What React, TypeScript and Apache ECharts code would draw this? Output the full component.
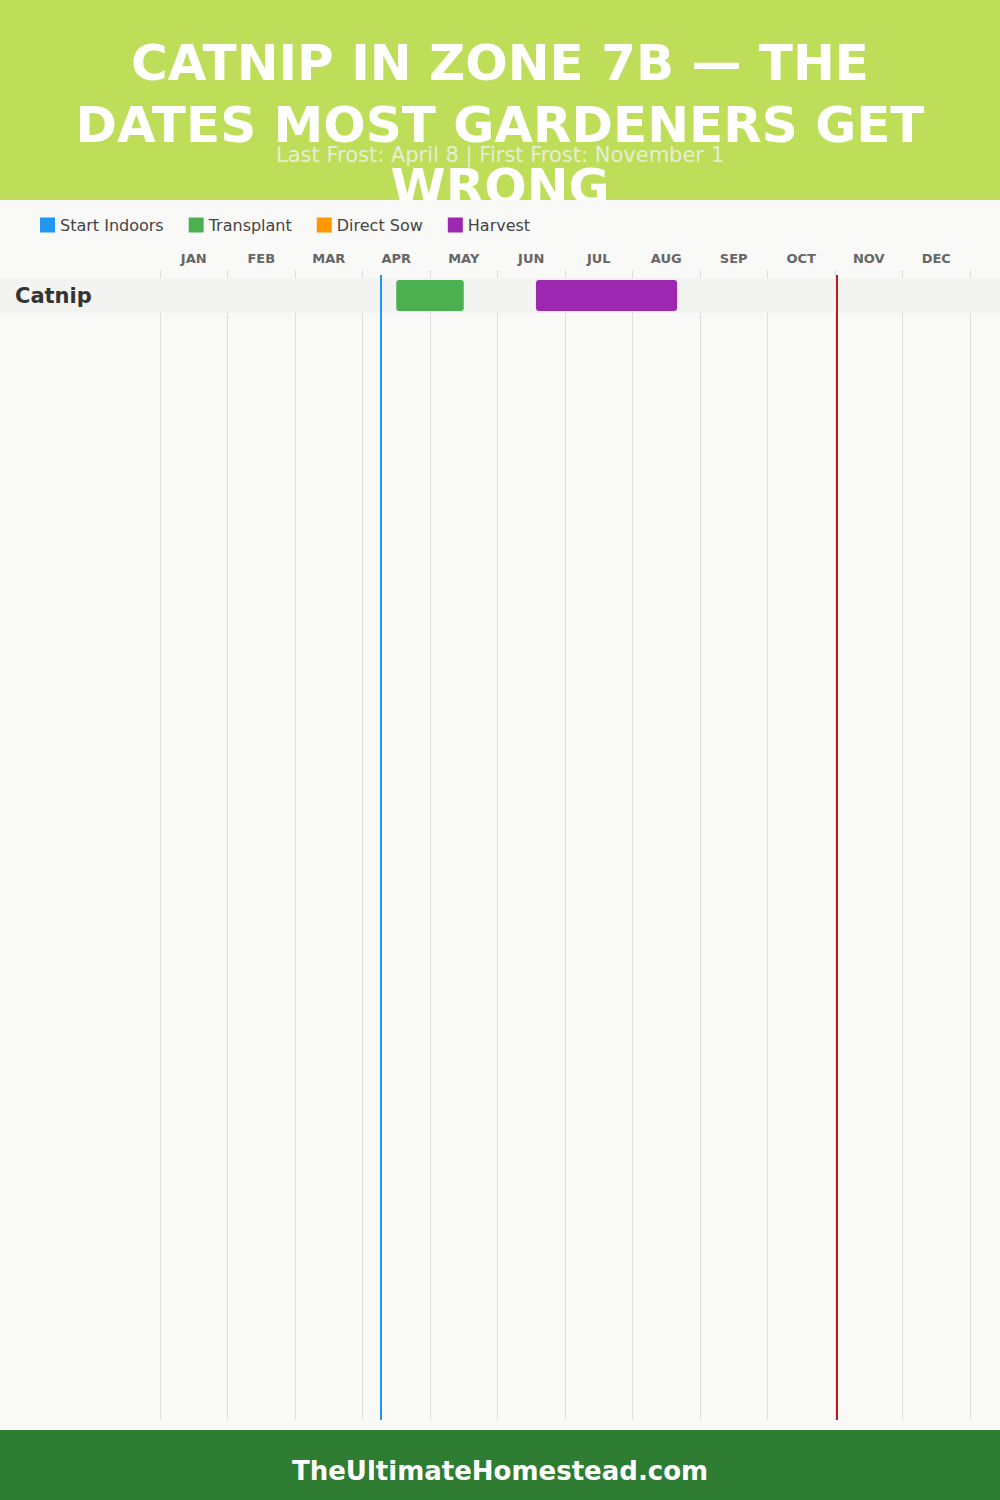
import React, { useEffect, useRef } from "react";
import * as echarts from "echarts";

const TITLE = "CATNIP IN ZONE 7B — THE\nDATES MOST GARDENERS GET\nWRONG";
const SUBTITLE = "Last Frost: April 8 | First Frost: November 1";
const FOOTER = "TheUltimateHomestead.com";
const MONTHS = ["JAN", "FEB", "MAR", "APR", "MAY", "JUN", "JUL", "AUG", "SEP", "OCT", "NOV", "DEC"];
const CROPS = ["Catnip"];
const ACTIVITIES = ["Start Indoors", "Transplant", "Direct Sow", "Harvest"];
const COLORS = ["#2196F3", "#4CAF50", "#FF9800", "#9C27B0"];
// [startMonth, endMonth, cropIndex] in month units (0 = Jan 1)
const START_INDOORS: number[][] = [];
const TRANSPLANT: number[][] = [[3.5, 4.5, 0]];
const DIRECT_SOW: number[][] = [];
const HARVEST: number[][] = [[5.57, 7.66, 0]];
const LAST_FROST = 3.27;
const FIRST_FROST = 10.03;

const FONT = "DejaVu Sans";

export default function App() {
  const ref = useRef<HTMLDivElement>(null);
  useEffect(() => {
    document.body.style.margin = "0";
    const chart = echarts.init(ref.current!, null, { renderer: "svg" });
    const actData = [START_INDOORS, TRANSPLANT, DIRECT_SOW, HARVEST];
    const renderBar = (color: string) => (params: any, api: any) => {
      const s = api.coord([api.value(0), api.value(2)]);
      const e = api.coord([api.value(1), api.value(2)]);
      const h = api.size([0, 1])[1] * 0.88;
      return {
        type: "rect",
        shape: { x: s[0], y: s[1] - h / 2, width: e[0] - s[0], height: h, r: 3 },
        style: { fill: color },
      };
    };
    const series: any[] = ACTIVITIES.map((name, i) => ({
      name,
      type: "custom",
      xAxisIndex: 0,
      yAxisIndex: 0,
      z: 5,
      itemStyle: { color: COLORS[i] },
      renderItem: renderBar(COLORS[i]),
      encode: { x: [0, 1], y: 2 },
      data: actData[i],
    }));
    const top = 0.9957;
    series.push({
      name: "frost",
      type: "line",
      xAxisIndex: 1,
      yAxisIndex: 1,
      data: [],
      z: 6,
      markLine: {
        symbol: "none",
        silent: true,
        label: { show: false },
        data: [
          [
            { coord: [LAST_FROST, top], lineStyle: { color: "#2196F3", width: 2, type: "solid" } },
            { coord: [LAST_FROST, 0] },
          ],
          [
            { coord: [FIRST_FROST, top], lineStyle: { color: "#B71C1C", width: 2, type: "solid" } },
            { coord: [FIRST_FROST, 0] },
          ],
        ],
      },
    });
    chart.setOption({
      animation: false,
      backgroundColor: "#F9F9F8",
      legend: {
        data: ACTIVITIES,
        left: 35,
        top: 212,
        icon: "rect",
        itemWidth: 15,
        itemHeight: 15,
        itemGap: 25,
        textStyle: { fontFamily: FONT, fontSize: 16, color: "#444" },
      },
      grid: [
        { left: 160, right: 30, top: 278, height: 35 },
        { left: 160, right: 30, top: 270, bottom: 80 },
      ],
      xAxis: [
        { type: "value", gridIndex: 0, min: 0, max: 12, show: false },
        {
          type: "value", gridIndex: 1, min: 0, max: 12, interval: 1,
          axisLine: { show: false }, axisTick: { show: false }, axisLabel: { show: false },
          splitLine: { show: true, lineStyle: { color: "#DDDDDD", width: 1 } },
        },
        {
          type: "category", gridIndex: 1, data: MONTHS, position: "top", boundaryGap: true, z: 4,
          axisLine: { show: false }, axisTick: { show: false }, splitLine: { show: false },
          axisLabel: { margin: 5, fontFamily: FONT, fontWeight: "bold", fontSize: 13, color: "#666" },
        },
      ],
      yAxis: [
        {
          type: "category", gridIndex: 0, data: CROPS, z: 4,
          axisLine: { show: false }, axisTick: { show: false }, splitLine: { show: false },
          axisLabel: { align: "left", margin: 145, fontFamily: FONT, fontWeight: "bold", fontSize: 21, color: "#333" },
        },
        { type: "value", gridIndex: 1, min: 0, max: 1, show: false },
      ],
      graphic: [
        { type: "rect", z: 0, shape: { x: 0, y: 0, width: 1000, height: 200 }, style: { fill: "#BEDE5A" } },
        {
          type: "text", z: 1, x: 500, y: 32,
          style: {
            text: TITLE, fill: "#fff", fontFamily: FONT, fontWeight: "bold", fontSize: 50,
            lineHeight: 62, align: "center", verticalAlign: "top",
          },
        },
        { type: "rect", z: 2, shape: { x: 0, y: 200, width: 1000, height: 45 }, style: { fill: "#F9F9F8" } },
        {
          type: "text", z: 3, x: 500, y: 155,
          style: {
            text: SUBTITLE, fill: "rgba(240,240,235,0.85)", fontFamily: FONT, fontSize: 21,
            align: "center", verticalAlign: "middle",
          },
        },
        { type: "rect", z: 1, shape: { x: 0, y: 278, width: 1000, height: 35 }, style: { fill: "#F3F3F2" } },
        { type: "rect", z: 0, shape: { x: 0, y: 1430, width: 1000, height: 70 }, style: { fill: "#2E7D32" } },
        {
          type: "text", z: 1, x: 500, y: 1471,
          style: {
            text: FOOTER, fill: "#fff", fontFamily: FONT, fontWeight: "bold", fontSize: 26,
            align: "center", verticalAlign: "middle",
          },
        },
      ],
      series,
    });
    return () => chart.dispose();
  }, []);
  return <div ref={ref} style={{ width: 1000, height: 1500 }} />;
}
